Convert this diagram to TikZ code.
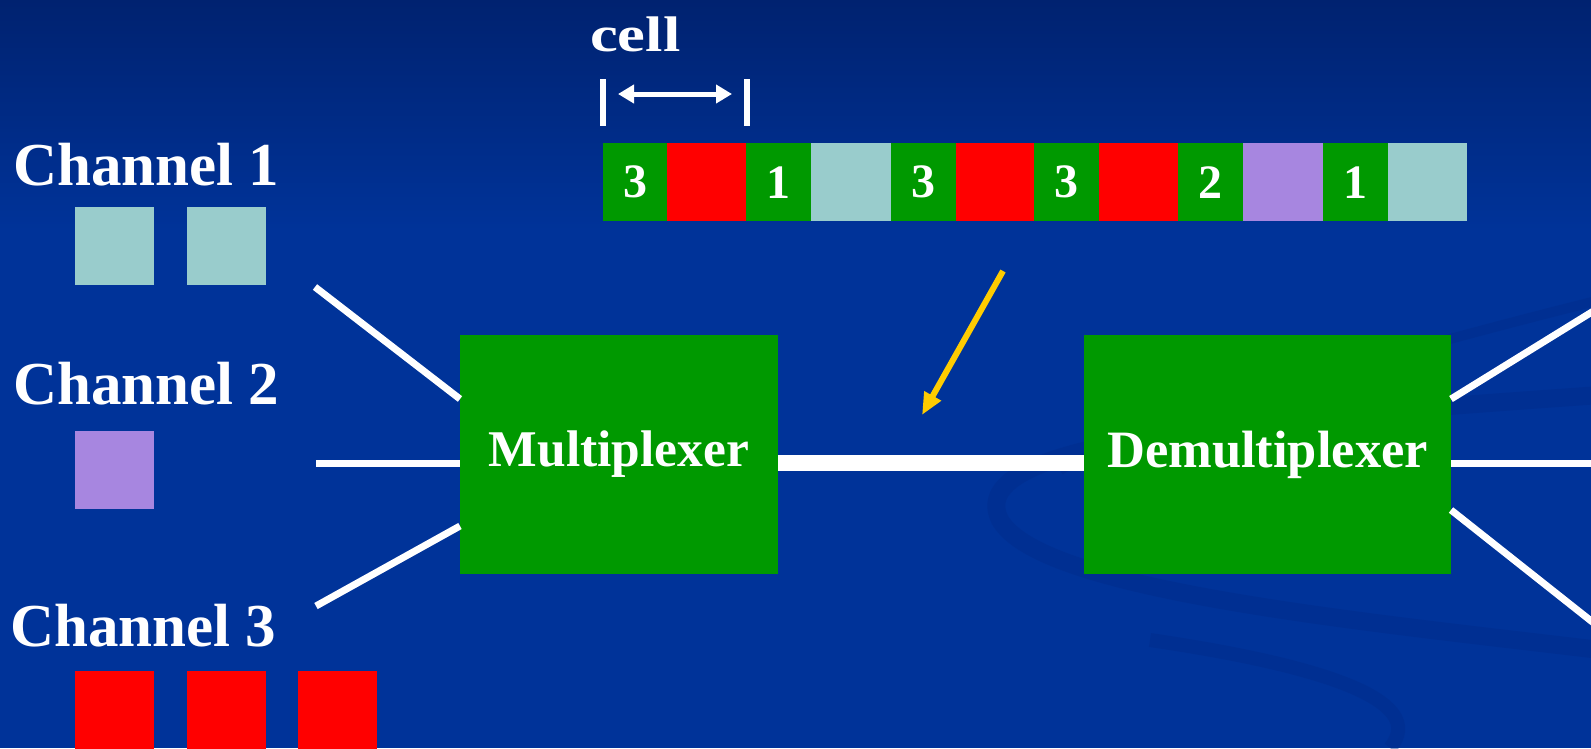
\documentclass[tikz,border=0pt]{standalone}
\usepackage{fontspec}
\setmainfont{Liberation Serif}
\newfontfamily\widefont[FakeStretch=1.25]{Liberation Serif}
\usetikzlibrary{calc,arrows.meta}
\definecolor{bgtop}{RGB}{0,34,112}
\definecolor{bgbot}{RGB}{0,51,153}
\definecolor{swirl}{RGB}{0,44,138}
\definecolor{boxgreen}{RGB}{0,153,0}
\definecolor{cellred}{RGB}{255,0,0}
\definecolor{cellteal}{RGB}{153,204,204}
\definecolor{cellpurple}{RGB}{167,134,224}
\definecolor{pointer}{RGB}{255,204,0}
\tikzset{
  chlabel/.style={text=white,anchor=base west,inner sep=0pt,font=\fontsize{61}{66}\selectfont\bfseries},
  block/.style={fill=boxgreen,draw=none,text=white,inner sep=0pt},
  packet/.style={draw=none,inner sep=0pt,minimum width=79,minimum height=78},
  slot/.style={fill=boxgreen,draw=none,inner sep=0pt,minimum height=78,text=white,font=\fontsize{48}{52}\selectfont\bfseries},
  wire/.style={white,line width=7},
  trunk/.style={white,line width=16},
}
\begin{document}
\begin{tikzpicture}[x=1pt,y=-1pt]
% background with darkened top band
\fill[bgbot] (0,0) rectangle (1591,748);
\shade[top color=bgtop,bottom color=bgbot] (0,0) rectangle (1591,230);
\useasboundingbox (0,0) rectangle (1591,748);
% faint swirl in the backdrop
\begin{scope}[opacity=0.45]
\draw[swirl,line width=18] (1600,395) .. controls (1250,420) and (960,440) .. (1000,520)
  .. controls (1040,590) and (1350,620) .. (1600,650);
\draw[swirl,line width=10] (1600,300) .. controls (1400,350) and (1150,420) .. (1060,470);
\draw[swirl,line width=14] (1150,640) .. controls (1320,665) and (1430,700) .. (1390,748);
\end{scope}

% channel labels and their packets
\node[chlabel] (ch1) at (13,185) {Channel 1};
\node[chlabel] (ch2) at (13,404) {Channel 2};
\node[chlabel] (ch3) at (10,646) {Channel 3};
\node[packet,fill=cellteal,anchor=north west] (p11) at (75,207) {};
\node[packet,fill=cellteal,anchor=north west] (p12) at (187,207) {};
\node[packet,fill=cellpurple,anchor=north west] (p21) at (75,431) {};
\node[packet,fill=cellred,anchor=north west] (p31) at (75,671) {};
\node[packet,fill=cellred,anchor=north west] (p32) at (187,671) {};
\node[packet,fill=cellred,anchor=north west] (p33) at (298,671) {};

% multiplexer and demultiplexer
\node[block,minimum width=318,minimum height=239,font=\fontsize{51.5}{56}\selectfont\bfseries] (mux) at (619,454.5) {Multiplexer};
\node[block,minimum width=367,minimum height=239,font=\fontsize{52.5}{56}\selectfont\bfseries] (demux) at (1267.5,454.5) {Demultiplexer};

% input wires
\coordinate (in1) at (315,287);
\coordinate (in2) at (316,463);
\coordinate (in3) at (316,606);
\coordinate (m1) at (460,399);
\coordinate (m2) at (460,463);
\coordinate (m3) at (460,526);
\draw[wire] (in1) -- (m1);
\draw[wire] (in2) -- (m2);
\draw[wire] (in3) -- (m3);

% shared link
\coordinate (mo) at (778,463);
\coordinate (di) at (1084,463);
\draw[trunk] (mo) -- (di);

% output wires
\coordinate (d1) at (1451,399);
\coordinate (d2) at (1451,463);
\coordinate (d3) at (1451,510);
\coordinate (out1) at (1600,307);
\coordinate (out2) at (1600,463);
\coordinate (out3) at (1600,628);
\draw[wire] (d1) -- (out1);
\draw[wire] (d2) -- (out2);
\draw[wire] (d3) -- (out3);

% interleaved cell stream
\node[slot,minimum width=64,anchor=north west] (s1) at (603,143) {3};
\node[packet,fill=cellred,anchor=north west] (s2) at (667,143) {};
\node[slot,minimum width=65,anchor=north west] (s3) at (746,143) {1};
\node[packet,fill=cellteal,anchor=north west,minimum width=80] (s4) at (811,143) {};
\node[slot,minimum width=65,anchor=north west] (s5) at (891,143) {3};
\node[packet,fill=cellred,anchor=north west,minimum width=78] (s6) at (956,143) {};
\node[slot,minimum width=65,anchor=north west] (s7) at (1034,143) {3};
\node[packet,fill=cellred,anchor=north west] (s8) at (1099,143) {};
\node[slot,minimum width=65,anchor=north west] (s9) at (1178,143) {2};
\node[packet,fill=cellpurple,anchor=north west,minimum width=80] (s10) at (1243,143) {};
\node[slot,minimum width=65,anchor=north west] (s11) at (1323,143) {1};
\node[packet,fill=cellteal,anchor=north west] (s12) at (1388,143) {};

% cell width marker
\node[text=white,anchor=base west,inner sep=0pt,font=\widefont\fontsize{50}{54}\selectfont\bfseries] (celltxt) at (590,51) {cell};
\coordinate (bl1) at (603,79);
\coordinate (bl2) at (603,126);
\coordinate (br1) at (747,79);
\coordinate (br2) at (747,126);
\draw[white,line width=6] (bl1) -- (bl2);
\draw[white,line width=6] (br1) -- (br2);
\coordinate (al) at (618,94);
\coordinate (ar) at (732,94);
\draw[white,line width=5,{Triangle[length=16,width=18]}-{Triangle[length=16,width=18]}] (al) -- (ar);

% pointer onto the link
\coordinate (ptail) at (1003,271);
\coordinate (phead) at (922,415);
\draw[pointer,line width=6,-{Triangle[length=22,width=18]}] (ptail) -- (phead);
\end{tikzpicture}
\end{document}
